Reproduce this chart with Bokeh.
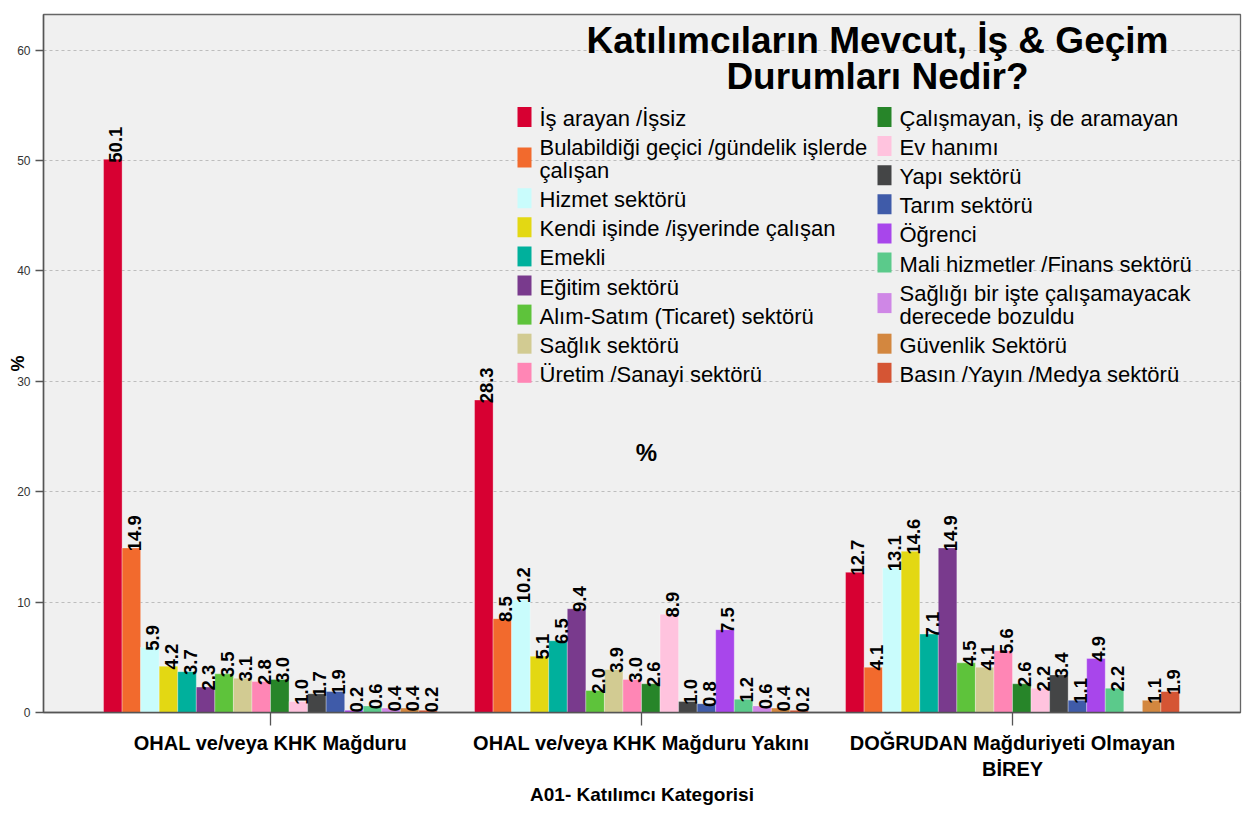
import math
from bokeh.plotting import figure
from bokeh.models import ColumnDataSource, FixedTicker, Label, Range1d
from bokeh.core.properties import value
from bokeh.embed import file_html
from bokeh.resources import INLINE

# ---------------- data ----------------
groups = ["OHAL ve/veya KHK Mağduru",
          "OHAL ve/veya KHK Mağduru Yakını",
          "DOĞRUDAN Mağduriyeti Olmayan\nBİREY"]

categories = ["İş arayan /İşsiz",
              "Bulabildiği geçici /gündelik işlerde\nçalışan",
              "Hizmet sektörü",
              "Kendi işinde /işyerinde çalışan",
              "Emekli",
              "Eğitim sektörü",
              "Alım-Satım (Ticaret) sektörü",
              "Sağlık sektörü",
              "Üretim /Sanayi sektörü",
              "Çalışmayan, iş de aramayan",
              "Ev hanımı",
              "Yapı sektörü",
              "Tarım sektörü",
              "Öğrenci",
              "Mali hizmetler /Finans sektörü",
              "Sağlığı bir işte çalışamayacak\nderecede bozuldu",
              "Güvenlik Sektörü",
              "Basın /Yayın /Medya sektörü"]

colors = ["#D70032", "#F26A2D", "#C9FCFC", "#E3D813", "#00B09C", "#793A8D",
          "#5EC33B", "#D2CB92", "#FF86B5", "#278529", "#FFC3DE", "#444546",
          "#3F5BA9", "#A846EB", "#5BCA8B", "#CF87E6", "#D3873F", "#D55534"]

magduru = [50.1, 14.9, 5.9, 4.2, 3.7, 2.3, 3.5, 3.1, 2.8, 3.0, 1.0, 1.7, 1.9, 0.2, 0.6, 0.4, 0.4, 0.2]
yakini  = [28.3, 8.5, 10.2, 5.1, 6.5, 9.4, 2.0, 3.9, 3.0, 2.6, 8.9, 1.0, 0.8, 7.5, 1.2, 0.6, 0.4, 0.2]
birey   = [12.7, 4.1, 13.1, 14.6, 7.1, 14.9, 4.5, 4.1, 5.6, 2.6, 2.2, 3.4, 1.1, 4.9, 2.2, None, 1.1, 1.9]
series_by_group = [magduru, yakini, birey]

y_ticks = [0, 10, 20, 30, 40, 50, 60]
title_lines = ["Katılımcıların Mevcut, İş & Geçim", "Durumları Nedir?"]
x_title = "A01- Katılımcı Kategorisi"
y_title = "%"
mid_note = "%"

# ---------------- layout helpers ----------------
W, H = 1251, 808
ML, MR, MT, MB = 43, 11, 14, 96
FRAME_L, FRAME_T = ML, MT
FRAME_R, FRAME_B = W - MR, H - MB
PX_PER_GROUP = 371.0
G0_PX = 270.0
X0 = (FRAME_L - G0_PX) / PX_PER_GROUP
X1 = (FRAME_R - G0_PX) / PX_PER_GROUP
Y1 = 63.22
PX_PER_UNIT = (FRAME_B - FRAME_T) / Y1

def xpx(px):
    return (px - G0_PX) / PX_PER_GROUP

def ypx(py):
    return (FRAME_B - py) / PX_PER_UNIT

FONT = value("Liberation Sans")
n = len(categories)
bw = 0.05

p = figure(width=W, height=H, output_backend="svg", toolbar_location=None,
           x_range=Range1d(X0, X1), y_range=Range1d(0, Y1),
           min_border_left=ML, min_border_right=MR, min_border_top=MT, min_border_bottom=MB)
p.background_fill_color = "#F0F0F0"
p.border_fill_color = "white"
p.outline_line_color = "#666666"
p.outline_line_width = 1.3

# bars
xs, tops, cols, lx, ly, labels = [], [], [], [], [], []
for gi, series in enumerate(series_by_group):
    for ci, v in enumerate(series):
        if v is None:
            continue
        x = gi + (ci - (n - 1) / 2) * bw
        xs.append(x); tops.append(v); cols.append(colors[ci])
        lx.append(x + 3 / PX_PER_GROUP)
        ly.append(max(v - 0.3, 0.0))
        labels.append(f"{v:.1f}")

src = ColumnDataSource(dict(x=xs, top=tops, color=cols))
p.vbar(x="x", top="top", width=bw, bottom=0, fill_color="color", line_color="white",
       line_alpha=0.3, line_width=1, source=src)

lsrc = ColumnDataSource(dict(x=lx, y=ly, text=labels))
p.text(x="x", y="y", text="text", angle=math.pi / 2, text_align="left", text_baseline="middle",
       text_font=FONT, text_font_style="bold", text_font_size="18.5px", text_color="black", source=lsrc)

# legend (drawn manually in two columns); y values are visual centres of text lines
half = n // 2
sw_w, sw_h = 14, 20
cols_cfg = [(524, 539), (884, 899)]
for col in range(2):
    base = 118.0
    sx, tx = cols_cfg[col]
    rx, ry, rc, tx_l, ty_l, tt = [], [], [], [], [], []
    for k in range(half):
        ci = col * half + k
        lines = categories[ci].split("\n")
        rx.append(xpx(sx)); ry.append(ypx(base - 1.5 + 11.5 * (len(lines) - 1))); rc.append(colors[ci])
        for li, line in enumerate(lines):
            tx_l.append(xpx(tx)); ty_l.append(ypx(base + 23 * li)); tt.append(line)
        base += 29.1 + 23 * (len(lines) - 1)
    p.rect(x=rx, y=ry, width=sw_w / PX_PER_GROUP, height=sw_h / PX_PER_UNIT, fill_color=rc, line_color=None)
    p.text(x=tx_l, y=ty_l, text=tt, text_align="left", text_baseline="alphabetic",
           text_font=FONT, text_font_size="22px", text_color="black")

# titles
for i, t in enumerate(title_lines):
    p.add_layout(Label(x=xpx(877), y=ypx(40 + 36 * i), text=t, text_align="center",
                       text_baseline="alphabetic", text_font="Liberation Sans", text_font_style="bold",
                       text_font_size="37px", text_color="black"))
p.add_layout(Label(x=xpx(646), y=ypx(452), text=mid_note, text_align="center", text_baseline="alphabetic",
                   text_font="Liberation Sans", text_font_style="bold", text_font_size="24px",
                   text_color="black"))

# grid & axes
p.xgrid.grid_line_color = None
p.ygrid.grid_line_color = "#BDBDBD"
p.ygrid.grid_line_dash = "3 3"
p.ygrid.grid_line_width = 1
p.ygrid.ticker = FixedTicker(ticks=y_ticks)

p.yaxis.ticker = FixedTicker(ticks=y_ticks)
p.yaxis.major_label_text_font = "Liberation Sans"
p.yaxis.major_label_text_font_size = "12px"
p.yaxis.major_label_text_color = "#333333"
p.yaxis.major_tick_out = 8
p.yaxis.major_tick_in = 0
p.yaxis.minor_tick_line_color = None
p.yaxis.axis_line_color = "#555555"
p.yaxis.axis_line_width = 1.5
p.yaxis.major_tick_line_color = "#555555"
p.yaxis.major_tick_line_width = 1.5
p.yaxis.axis_label = y_title
p.yaxis.axis_label_text_font = "Liberation Sans"
p.yaxis.axis_label_text_font_style = "bold"
p.yaxis.axis_label_text_font_size = "18px"
p.yaxis.axis_label_text_color = "black"
p.yaxis.axis_label_standoff = -14

p.xaxis.ticker = FixedTicker(ticks=[0, 1, 2])
p.xaxis.major_label_overrides = {i: g for i, g in enumerate(groups)}
p.xaxis.major_label_text_font = "Liberation Sans"
p.xaxis.major_label_text_font_style = "bold"
p.xaxis.major_label_text_font_size = "20px"
p.xaxis.major_label_text_color = "black"
p.xaxis.major_label_standoff = 6
p.xaxis.major_tick_out = 13
p.xaxis.major_tick_in = 0
p.xaxis.minor_tick_line_color = None
p.xaxis.axis_line_color = "#555555"
p.xaxis.axis_line_width = 1.5
p.xaxis.major_tick_line_color = "#555555"
p.xaxis.major_tick_line_width = 1.3
p.xaxis.axis_label = x_title
p.xaxis.axis_label_text_font = "Liberation Sans"
p.xaxis.axis_label_text_font_style = "bold"
p.xaxis.axis_label_text_font_size = "19px"
p.xaxis.axis_label_text_color = "black"
p.xaxis.axis_label_standoff = 1

open("out.html", "w").write(file_html(p, INLINE))
